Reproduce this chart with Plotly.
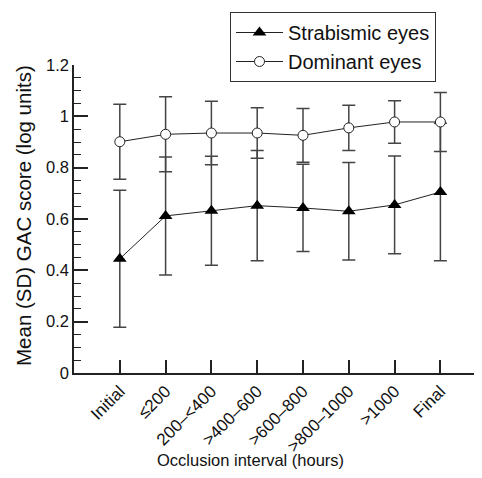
import plotly.graph_objects as go

categories = ["Initial", "≤200", "200–<400", ">400–600", ">600–800", ">800–1000", ">1000", "Final"]
strab_mean = [0.445, 0.612, 0.632, 0.652, 0.643, 0.630, 0.655, 0.705]
strab_sd = [0.267, 0.230, 0.212, 0.215, 0.170, 0.190, 0.190, 0.268]
dom_mean = [0.901, 0.930, 0.935, 0.935, 0.926, 0.955, 0.978, 0.978]
dom_sd = [0.146, 0.146, 0.124, 0.098, 0.105, 0.088, 0.083, 0.115]
y_ticks = [0, 0.2, 0.4, 0.6, 0.8, 1.0, 1.2]
y_tick_text = ["0", "0.2", "0.4", "0.6", "0.8", "1", "1.2"]

xi = list(range(len(categories)))
FONT = "Liberation Sans, Arial, sans-serif"
W, H = 466, 462
L, T, B = 66, 57, 97
PW, PH = W - L, H - T - B

fig = go.Figure()
fig.add_trace(go.Scatter(
    x=xi, y=strab_mean, name="Strabismic eyes", mode="lines+markers",
    line=dict(color="#222", width=1),
    marker=dict(symbol="triangle-up", size=12, color="#000"),
    error_y=dict(type="data", array=strab_sd, visible=True, color="#444", thickness=1.5, width=6.5),
))
fig.add_trace(go.Scatter(
    x=xi, y=dom_mean, name="Dominant eyes", mode="lines+markers",
    line=dict(color="#222", width=1),
    marker=dict(symbol="circle", size=10, color="white", line=dict(color="#222", width=1)),
    error_y=dict(type="data", array=dom_sd, visible=True, color="#444", thickness=1.5, width=6.5),
))

fig.update_layout(
    width=W, height=H,
    margin=dict(l=L, r=0, t=T, b=B, autoexpand=False),
    paper_bgcolor="white", plot_bgcolor="white",
    font=dict(family=FONT, size=14, color="#111"),
    showlegend=True,
    legend=dict(
        x=222 / W, y=1 - 4 / H, xref="container", yref="container",
        xanchor="left", yanchor="top",
        bordercolor="#333", borderwidth=1, bgcolor="white",
        font=dict(size=20, family=FONT, color="#111"),
        tracegroupgap=0, itemwidth=47,
    ),
    xaxis=dict(
        range=[-1.0, -1.0 + PW / 45.8], tickmode="array", tickvals=xi, ticktext=categories,
        tickangle=-45, ticks="inside", ticklen=13, tickwidth=1.5, tickcolor="#222",
        showline=True, linecolor="#222", linewidth=1.5, showgrid=False, zeroline=False,
        tickfont=dict(size=17, family=FONT),
    ),
    yaxis=dict(
        range=[0, 1.2], tickmode="array", tickvals=y_ticks, ticktext=y_tick_text,
        ticks="inside", ticklen=14, tickwidth=1.5, tickcolor="#222",
        minor=dict(ticks="inside", ticklen=7, tickwidth=1.2, tickcolor="#222", dtick=0.05, showgrid=False),
        showline=True, linecolor="#222", linewidth=1.5, showgrid=False, zeroline=False,
        tickfont=dict(size=16.5, family=FONT),
    ),
    annotations=[
        dict(
            text="Occlusion interval (hours)", xref="paper", yref="paper",
            x=(242 - L) / PW, y=-(452 - (H - B)) / PH, xanchor="center", yanchor="middle",
            showarrow=False, font=dict(size=16.5, family=FONT, color="#111"),
        ),
        dict(
            text="Mean (SD) GAC score (log units)", xref="paper", yref="paper",
            x=(15 - L) / PW, y=(H - B - (216 - 8)) / PH, xanchor="center", yanchor="middle", textangle=-90,
            showarrow=False, font=dict(size=20.5, family=FONT, color="#111"),
        ),
    ],
)

fig.write_html("out.html")
